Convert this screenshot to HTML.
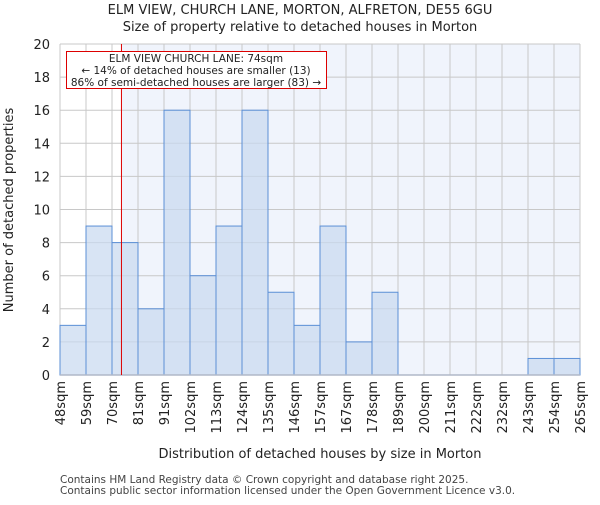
<!DOCTYPE html>
<html><head><meta charset="utf-8"><style>body{margin:0;background:#fff}svg text{font-family:"DejaVu Sans","Liberation Sans",sans-serif}</style></head><body>
<svg id="c" width="600" height="500" xmlns="http://www.w3.org/2000/svg"></svg>
<script>
const labels=["48sqm","59sqm","70sqm","81sqm","91sqm","102sqm","113sqm","124sqm","135sqm","146sqm","157sqm","167sqm","178sqm","189sqm","200sqm","211sqm","222sqm","232sqm","243sqm","254sqm","265sqm"];
const edges=[48,59,70,81,91,102,113,124,135,146,157,167,178,189,200,211,222,232,243,254,265];
const counts=[3,9,8,4,16,6,9,16,5,3,9,2,5,0,0,0,0,0,1,1];
const yTicks=[0,2,4,6,8,10,12,14,16,18,20];
const marker=74;
const L=60,R=580,T=44,B=375,n=counts.length,bw=(R-L)/n;
const x=i=>L+i*bw, y=v=>B-(v/20)*(B-T);
function xv(v){for(let i=0;i<edges.length-1;i++){if(v<=edges[i+1])return x(i)+bw*(v-edges[i])/(edges[i+1]-edges[i]);}return R;}
const s=document.getElementById('c');const NS="http://www.w3.org/2000/svg";
function el(t,a,p){const e=document.createElementNS(NS,t);for(const k in a)e.setAttribute(k,a[k]);(p||s).appendChild(e);return e;}
const mx=xv(marker);
let e;
e=el('rect',{x:mx,y:T,width:R-mx,height:B-T,fill:'#f0f4fc'});


yTicks.forEach(v=>{e=el('line',{x1:L,x2:R,y1:y(v),y2:y(v),stroke:'#c8c8c8','stroke-width':1});


const t=el('text',{x:L-10,y:y(v)+5,'text-anchor':'end','font-size':13,fill:'#222'});t.textContent=v;

});
labels.forEach((lb,i)=>{e=el('line',{x1:x(i),x2:x(i),y1:T,y2:B,stroke:'#c8c8c8','stroke-width':1});


const t=el('text',{transform:`translate(${x(i)+5},${B+6}) rotate(-90)`,'text-anchor':'end','font-size':13,fill:'#222'});t.textContent=lb;

});
counts.forEach((c,i)=>{if(c<=0)return;e=el('rect',{x:x(i),y:y(c),width:bw,height:B-y(c),fill:'rgba(200,216,240,0.7)',stroke:'#5b8fd6','stroke-width':1});

});
e=el('line',{x1:L,x2:R,y1:B,y2:B,stroke:'#b0b8c8','stroke-width':1.5});


e=el('line',{x1:mx,x2:mx,y1:T,y2:B,stroke:'#dd0000','stroke-width':1});


const g=el('g',{});


el('rect',{x:66.5,y:51.5,width:260,height:37,fill:'#fff',stroke:'#dd0000','stroke-width':1},g);
["ELM VIEW CHURCH LANE: 74sqm","← 14% of detached houses are smaller (13)","86% of semi-detached houses are larger (83) →"].forEach((tx,i)=>{const t=el('text',{x:196,y:62+i*12,'text-anchor':'middle','font-size':10.5,fill:'#222'},g);t.textContent=tx;});
function txt(tx,a,name){const t=el('text',a);t.textContent=tx;}
txt("ELM VIEW, CHURCH LANE, MORTON, ALFRETON, DE55 6GU",{x:300,y:14,'text-anchor':'middle','font-size':13,fill:'#222'},'title');
txt("Size of property relative to detached houses in Morton",{x:300,y:31,'text-anchor':'middle','font-size':13,fill:'#222'},'subtitle');
txt("Distribution of detached houses by size in Morton",{x:320,y:458,'text-anchor':'middle','font-size':13,fill:'#222'},'x-axis-title');
txt("Number of detached properties",{transform:'translate(13,210) rotate(-90)','text-anchor':'middle','font-size':13,fill:'#222'},'y-axis-title');
txt("Contains HM Land Registry data © Crown copyright and database right 2025.",{x:60,y:483,'font-size':10.5,fill:'#444'},'footer-1');
txt("Contains public sector information licensed under the Open Government Licence v3.0.",{x:60,y:494,'font-size':10.5,fill:'#444'},'footer-2');
</script></body></html>
